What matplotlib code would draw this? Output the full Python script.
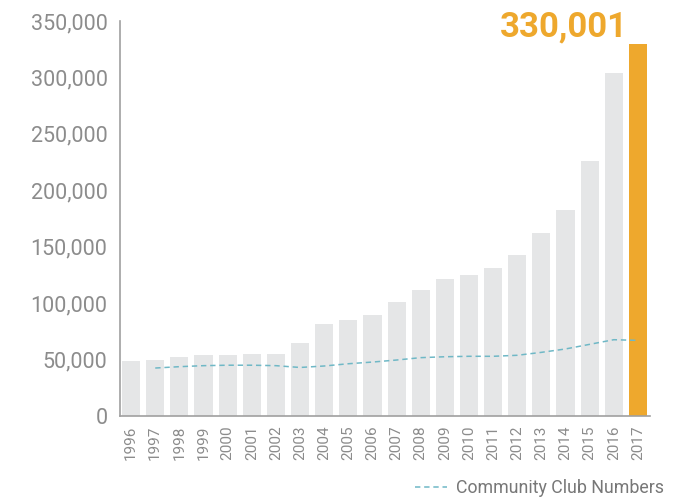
import matplotlib
matplotlib.use('Agg')
import matplotlib.pyplot as plt
from matplotlib.ticker import FuncFormatter

plt.rcParams['font.family'] = ['Roboto', 'DejaVu Sans']

years = [str(y) for y in range(1996, 2018)]
members = [48700, 49600, 52300, 54000, 54000, 55000, 55000, 64700, 81500, 85000,
           89500, 101000, 111600, 121400, 125000, 131000, 142600, 162000, 182500,
           226000, 304000, 330001]
club_years = years[1:]
clubs = [42500, 43700, 44600, 45000, 45000, 44600, 43000, 44300, 46300, 47800,
         49600, 51700, 52500, 52900, 52900, 53800, 56400, 59400, 63500, 67600, 67000]

GREY_BAR = '#e5e6e7'
ORANGE = '#eea82d'
TEAL = '#6fb8c6'
TEXT = '#8c8c8c'

fig = plt.figure(figsize=(6.77, 4.97), dpi=100)
ax = fig.add_axes([120 / 677, 81 / 497, 530 / 677, 395 / 497])

x = list(range(len(years)))
colors = [GREY_BAR] * (len(years) - 1) + [ORANGE]
ax.bar(x, members, width=0.75, color=colors, zorder=2)

cx = [years.index(y) for y in club_years]
ax.plot(cx, clubs, color=TEAL, lw=1.1, dashes=(3.5, 2.5), zorder=3,
        label='Community Club Numbers')

ax.set_xlim(-0.46, 21.5)
ax.set_ylim(0, 350000)
ax.set_yticks(range(0, 350001, 50000))
ax.yaxis.set_major_formatter(FuncFormatter(lambda v, p: f'{int(v):,}'))
ax.set_xticks(x)
ax.set_xticklabels(years, rotation=90)

ax.tick_params(axis='y', length=0, pad=9, labelsize=15.5, labelcolor=TEXT)
ax.tick_params(axis='x', length=0, pad=7, labelsize=11, labelcolor=TEXT)
for s in ['top', 'right']:
    ax.spines[s].set_visible(False)
for s in ['left', 'bottom']:
    ax.spines[s].set_color('#a0a0a0')
    ax.spines[s].set_linewidth(1.2)

# headline value above the final bar
fig.text(628 / 677, 1 - 36 / 497, f'{members[-1]:,}', ha='right', va='baseline',
         fontsize=25, fontweight='bold', color=ORANGE)

fig.legend(loc='center left', bbox_to_anchor=(415 / 677, 1 - 488 / 497), frameon=False,
           handlelength=1.8, handletextpad=0.5, borderaxespad=0, borderpad=0,
           prop={'size': 12.8}, labelcolor='#777777')

fig.savefig('out.png', dpi=100)
